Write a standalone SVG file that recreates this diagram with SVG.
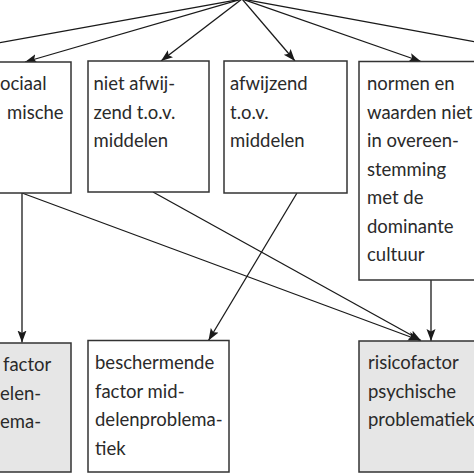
<svg xmlns="http://www.w3.org/2000/svg" width="474" height="474" viewBox="0 0 474 474">
  <defs>
    <marker id="arr" markerUnits="userSpaceOnUse" markerWidth="13" markerHeight="10" refX="12" refY="4.5" orient="auto">
      <path d="M0,0 L12,4.5 L0,9 L2.5,4.5 z" fill="#1a1a1a"/>
    </marker>
  </defs>
  <style>
    .box { fill: #ffffff; stroke: #333333; stroke-width: 1.5; }
    .grey { fill: #e6e6e6; }
    .t { font-family: Lato, "Open Sans", "Liberation Sans", sans-serif; font-size: 18.5px; fill: #2a2a2a; }
    .c { fill: none; stroke: #1a1a1a; stroke-width: 1.3; }
    .a { marker-end: url(#arr); }
  </style>
  <rect x="0" y="0" width="474" height="474" fill="#ffffff"/>

  <g id="connectors">
    <line class="c" x1="242" y1="-1" x2="0" y2="42.7"/>
    <line class="c a" x1="242" y1="-1" x2="25" y2="62"/>
    <line class="c a" x1="242" y1="-1" x2="161" y2="61"/>
    <line class="c a" x1="242" y1="-1" x2="295" y2="61"/>
    <line class="c a" x1="242" y1="-1" x2="421" y2="61.5"/>
    <line class="c" x1="242" y1="-1" x2="474" y2="41.7"/>
    <line class="c a" x1="22" y1="193" x2="22" y2="342.5"/>
    <line class="c a" x1="22" y1="193" x2="420" y2="340.5"/>
    <line class="c a" x1="153" y1="192" x2="421" y2="340.5"/>
    <line class="c a" x1="297" y1="193" x2="208.5" y2="340.5"/>
    <line class="c a" x1="431" y1="280" x2="431" y2="341"/>
  </g>

  <g id="node-sociaal">
    <rect class="box" x="-5" y="62" width="76" height="131"/>
    <text class="t" x="0" y="90">ociaal</text>
    <text class="t" x="7" y="118.5">mische</text>
  </g>

  <g id="node-niet-afwijzend">
    <rect class="box" x="88" y="61" width="121" height="131"/>
    <text class="t" x="93.5" y="90">niet afwij-</text>
    <text class="t" x="93.5" y="118.5">zend t.o.v.</text>
    <text class="t" x="93.5" y="147">middelen</text>
  </g>

  <g id="node-afwijzend">
    <rect class="box" x="224" y="61" width="123" height="132"/>
    <text class="t" x="230" y="90">afwijzend</text>
    <text class="t" x="230" y="118.5">t.o.v.</text>
    <text class="t" x="230" y="147">middelen</text>
  </g>

  <g id="node-normen">
    <rect class="box" x="359" y="61.5" width="125" height="218.5"/>
    <text class="t" x="367" y="90">normen en</text>
    <text class="t" x="367" y="118.5">waarden niet</text>
    <text class="t" x="367" y="147">in overeen-</text>
    <text class="t" x="367" y="175.5">stemming</text>
    <text class="t" x="367" y="204">met de</text>
    <text class="t" x="367" y="232.5">dominante</text>
    <text class="t" x="367" y="261">cultuur</text>
  </g>

  <g id="node-risico-middelen">
    <rect class="box grey" x="-5" y="343" width="76" height="129"/>
    <text class="t" x="3" y="371">factor</text>
    <text class="t" x="0" y="399.5">elen-</text>
    <text class="t" x="0" y="428">ema-</text>
  </g>

  <g id="node-beschermend">
    <rect class="box" x="88" y="340.5" width="141" height="131.5"/>
    <text class="t" x="95" y="369">beschermende</text>
    <text class="t" x="95" y="397.5">factor mid-</text>
    <text class="t" x="95" y="426">delenproblema-</text>
    <text class="t" x="95" y="454.5">tiek</text>
  </g>

  <g id="node-risico-psychisch">
    <rect class="box grey" x="359" y="341" width="125" height="131"/>
    <text class="t" x="368" y="369">risicofactor</text>
    <text class="t" x="368" y="397.5">psychische</text>
    <text class="t" x="368" y="426">problematiek</text>
  </g>
</svg>
